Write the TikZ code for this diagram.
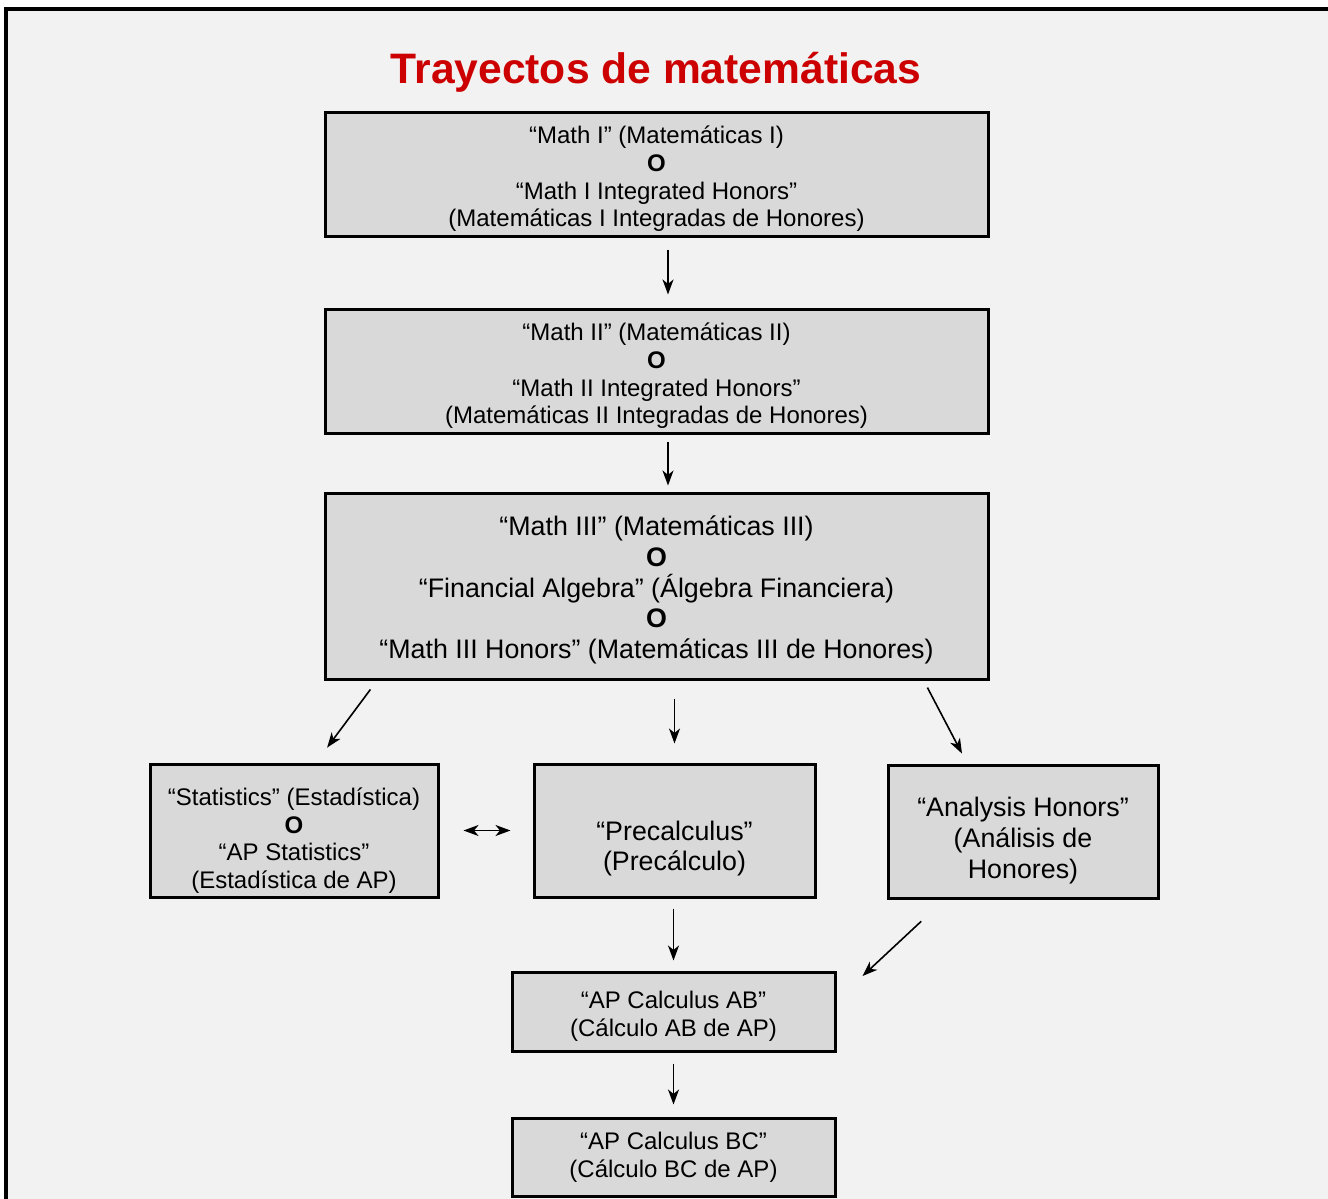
\documentclass[tikz,border=0pt]{standalone}
\usepackage{fontspec}
\setmainfont{Liberation Sans}
\usetikzlibrary{arrows.meta}

\definecolor{fondo}{RGB}{242,242,242}
\definecolor{cajagris}{RGB}{217,217,217}
\definecolor{rojotitulo}{RGB}{204,0,0}

\tikzset{
  punta/.tip={Stealth[length=7.5pt,width=5.5pt,inset=2.2pt]},
  caja/.style={draw=black, line width=1.5pt, fill=cajagris, inner sep=0pt},
  texto/.style={align=center, inner sep=0pt, font=\fontsize{12}{13.85}\selectfont},
  textogrande/.style={texto, font=\fontsize{13.4}{15.4}\selectfont},
  flecha/.style={line width=0.8pt, -punta},
}

\begin{document}
\begin{tikzpicture}[x=0.5pt,y=-0.5pt]
        \useasboundingbox (0,0) rectangle (1328,1199);
        \clip (0,0) rectangle (1328,1199);
        \fill[white] (0,0) rectangle (1328,1199);
        \draw[line width=1.6pt, fill=fondo] (6,1230) -- (6,9) -- (1345,9) -- (1345,1230);

        \node[font=\fontsize{21.3}{25}\selectfont\bfseries, text=rojotitulo] (titulo) at (656,72) {Trayectos de matemáticas};

        % cajas de arriba
        \node[caja, minimum width=331.5pt, minimum height=62pt] (m1) at (656.5,174) {};
        \node[texto] (m1-t) at ([yshift=-2.5pt]m1.center)
            {“Math I” (Matemáticas I)\\\textbf{O}\\“Math I Integrated Honors”\\(Matemáticas I Integradas de Honores)};
        \node[caja, minimum width=331.5pt, minimum height=62pt] (m2) at (656.5,371) {};
        \node[texto] (m2-t) at ([yshift=-2.5pt]m2.center)
            {“Math II” (Matemáticas II)\\\textbf{O}\\“Math II Integrated Honors”\\(Matemáticas II Integradas de Honores)};
        \node[caja, minimum width=331.5pt, minimum height=93pt] (m3) at (656.5,586) {};
        \node[textogrande] (m3-t) at ([yshift=-2pt]m3.center)
            {“Math III” (Matemáticas III)\\\textbf{O}\\“Financial Algebra” (Álgebra Financiera)\\\textbf{O}\\“Math III Honors” (Matemáticas III de Honores)};

        % fila de abajo
        \node[caja, minimum width=144pt, minimum height=66.5pt] (est) at (294,830.5) {};
        \node[texto] (est-t) at ([yshift=-5pt]est.center)
            {“Statistics” (Estadística)\\\textbf{O}\\“AP Statistics”\\(Estadística de AP)};
        \node[caja, minimum width=140.5pt, minimum height=66.5pt] (pre) at (674.5,830.5) {};
        \node[textogrande] (pre-t) at ([yshift=-9pt]pre.center) {“Precalculus”\\(Precálculo)};
        \node[caja, minimum width=135pt, minimum height=66.5pt] (ana) at (1023,831.5) {};
        \node[textogrande] (ana-t) at ([yshift=-4.5pt]ana.center) {“Analysis Honors”\\(Análisis de\\Honores)};

        \node[caja, minimum width=161.5pt, minimum height=39.5pt] (ab) at (673.5,1011.5) {};
        \node[texto] (ab-t) at ([yshift=-2.5pt]ab.center) {“AP Calculus AB”\\(Cálculo AB de AP)};
        \node[caja, minimum width=161.5pt, minimum height=39pt] (bc) at (673.5,1157) {};
        \node[texto] (bc-t) at (bc.center) {“AP Calculus BC”\\(Cálculo BC de AP)};

        % flechas
        \draw[flecha, shorten <=6pt, shorten >=6.5pt] ([xshift=5.75pt]m1.south) -- ([xshift=5.75pt]m2.north);
        \draw[flecha, shorten <=3.5pt, shorten >=3pt] ([xshift=5.75pt]m2.south) -- ([xshift=5.75pt]m3.north);
        \draw[flecha, shorten <=5.6pt, shorten >=9.3pt] ([xshift=26.8pt]m3.south west) -- ([xshift=11pt]est.north);
        \draw[flecha, shorten <=9pt, shorten >=9.5pt] (pre.north |- m3.south) -- (pre.north);
        \draw[flecha, shorten <=4pt, shorten >=5.6pt] ([xshift=-32.9pt]m3.south east) -- ([xshift=-27.9pt]ana.north);
        \draw[flecha, punta-punta, shorten <=12pt, shorten >=11pt] (est.east) -- (pre.west);
        \draw[flecha, shorten <=5pt, shorten >=5pt] (ab.north |- pre.south) -- (ab.north);
        \draw[flecha, shorten <=16pt, shorten >=17.8pt] ([xshift=-39.2pt]ana.south) -- ([yshift=5.6pt]ab.east);
        \draw[flecha, shorten <=5.5pt, shorten >=6pt] (bc.north |- ab.south) -- (bc.north);
    \end{tikzpicture}
\end{document}
